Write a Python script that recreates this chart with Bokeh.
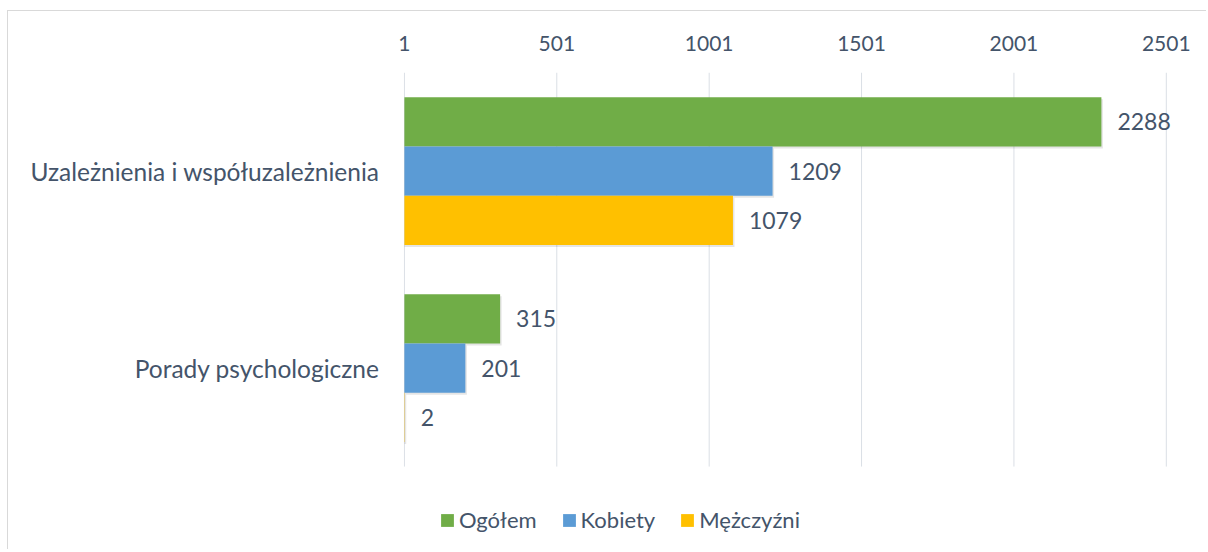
from bokeh.plotting import figure
from bokeh.models import ColumnDataSource, Range1d, FixedTicker, Legend, LegendItem
from bokeh.transform import dodge
from bokeh.core.properties import value
from bokeh.embed import file_html
from bokeh.resources import INLINE

categories = ["Uzależnienia i współuzależnienia", "Porady psychologiczne"]
series = ["Ogółem", "Kobiety", "Mężczyźni"]
ogolem = [2288, 315]
kobiety = [1209, 201]
mezczyzni = [1079, 2]
ticks = [1, 501, 1001, 1501, 2001, 2501]
colors = ["#70AD47", "#5B9BD5", "#FFC000"]

FONT = "Lato"
TXT = "#44546A"
GRID = "#DADFE5"
BORDER = "#D9D9D9"

# category positions (top category first)
ypos = list(range(len(categories)))[::-1]
band_lo, band_hi = ypos[-1] - 0.5, ypos[0] + 0.5

p = figure(width=1199, height=539,
           y_range=Range1d(-0.926, band_hi),
           x_range=Range1d(ticks[0] - 3, ticks[-1] + 40),
           x_axis_location="above",
           output_backend="svg", toolbar_location=None,
           min_border_left=395, min_border_right=29,
           min_border_top=61, min_border_bottom=0,
           margin=(10, 0, 0, 7),
           styles={"border-left": "1px solid " + BORDER, "border-top": "1px solid " + BORDER})

# vertical gridlines over the category bands
p.segment(x0=ticks, x1=ticks, y0=[band_lo] * len(ticks), y1=[band_hi] * len(ticks),
          line_color=GRID, line_width=1)

offsets = [0.25, 0.0, -0.25]
all_vals = [ogolem, kobiety, mezczyzni]
sources = []
for vals in all_vals:
    src = ColumnDataSource(dict(y=ypos, val=vals,
                                left=[ticks[0]] * len(vals),
                                sh=[v + 5 for v in vals],
                                lbl=[str(v) for v in vals]))
    sources.append(src)

for src, off in zip(sources, offsets):
    p.hbar(y=dodge("y", off - 0.011), left="left", right="sh",
           height=0.25, source=src, fill_color="black", fill_alpha=0.10, line_color=None)

renderers = []
for src, col, off in zip(sources, colors, offsets):
    r = p.hbar(y=dodge("y", off), left="left", right="val",
               height=0.25, source=src, fill_color=col, line_color=None)
    renderers.append(r)
    p.text(x="val", y=dodge("y", off), text="lbl", source=src,
           x_offset=16, text_align="left", text_baseline="middle",
           text_font=value(FONT), text_font_size="23px", text_color=TXT)

p.xaxis.ticker = FixedTicker(ticks=ticks)
p.xgrid.visible = False
p.ygrid.visible = False
p.outline_line_color = None

p.yaxis.ticker = FixedTicker(ticks=ypos)
p.yaxis.major_label_overrides = {yp: c for yp, c in zip(ypos, categories)}

for ax in (p.xaxis, p.yaxis):
    ax.axis_line_color = None
    ax.major_tick_line_color = None
    ax.minor_tick_line_color = None
    ax.major_label_text_font = FONT
    ax.major_label_text_color = TXT
p.xaxis.major_label_text_font_size = "21px"
p.xaxis.major_label_standoff = 16
p.yaxis.major_label_text_font_size = "24.5px"
p.yaxis.major_label_standoff = 18

legend = Legend(items=[LegendItem(label=s, renderers=[r]) for s, r in zip(series, renderers)],
                location=(36, 17), orientation="horizontal",
                glyph_width=16, glyph_height=16, label_standoff=4, spacing=24,
                label_height=22, padding=0, margin=0, border_line_color=None,
                background_fill_alpha=0,
                label_text_font=FONT, label_text_font_size="22px", label_text_color=TXT)
p.add_layout(legend, "center")

open("out.html", "w").write(file_html(p, INLINE))
